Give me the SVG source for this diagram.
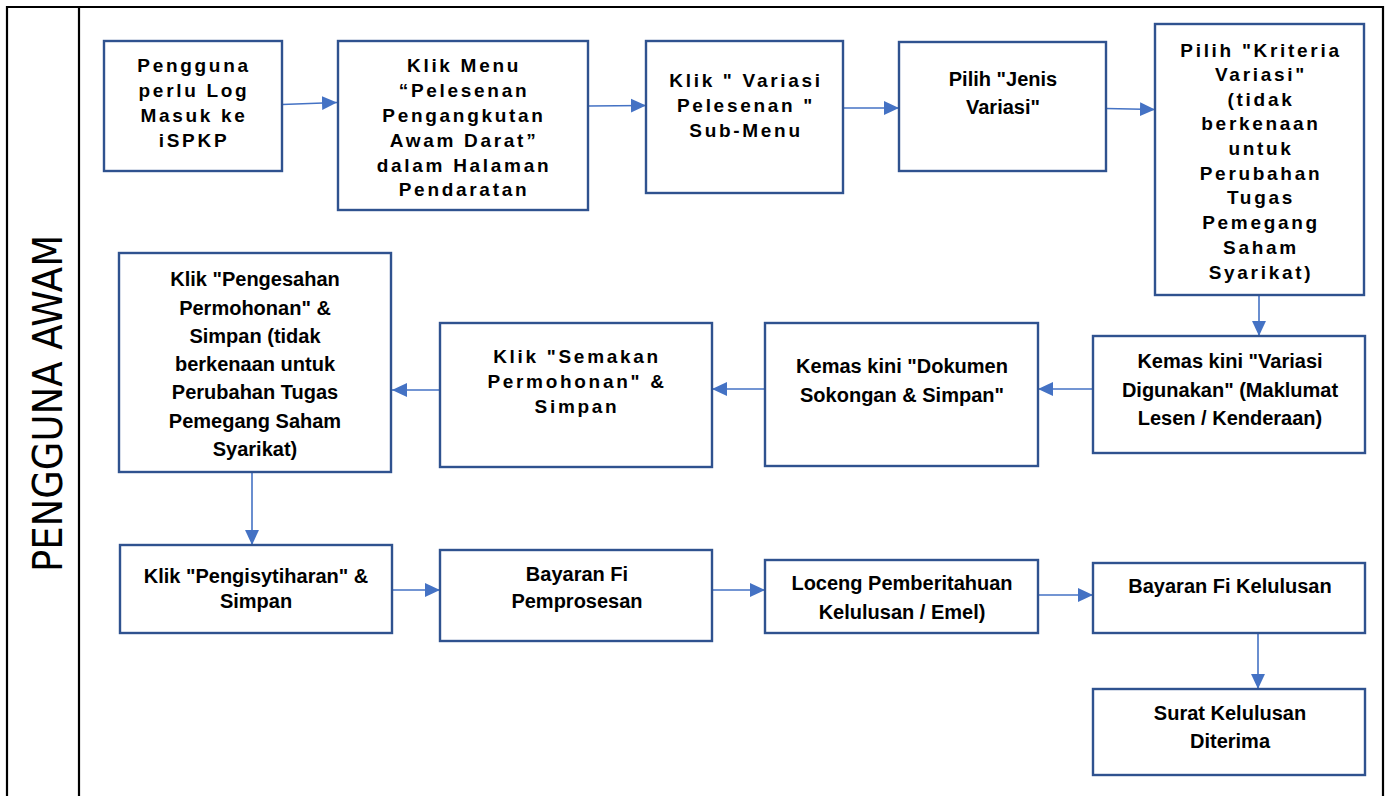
<svg xmlns="http://www.w3.org/2000/svg" width="1390" height="796" viewBox="0 0 1390 796">
<style>
.frame{stroke:#000;stroke-width:2.2;fill:none}
.box{fill:#fff;stroke:#2F528F;stroke-width:2.4}
.sp{font-family:"Liberation Sans",Arial,sans-serif;font-weight:bold;font-size:19px;letter-spacing:2.7px;fill:#000;text-anchor:middle}
.cn{font-family:"Liberation Sans",Arial,sans-serif;font-weight:bold;font-size:20px;fill:#000;text-anchor:middle}
.lane{font-family:"DejaVu Sans","Liberation Sans",sans-serif;font-size:41px;fill:#000;text-anchor:middle}
.conn{stroke:#4472C4;stroke-width:1.6;fill:none;marker-end:url(#ah)}
</style>
<defs>
<marker id="ah" markerUnits="userSpaceOnUse" markerWidth="15" markerHeight="15" refX="14" refY="7" orient="auto" viewBox="0 0 14 14">
<path d="M0,0.5 L14,7 L0,13.5 z" fill="#4472C4"/>
</marker>
</defs>
<rect width="1390" height="796" fill="#fff"/>
<g id="lane">
<path class="frame" d="M7,796 V7 H1383 V796 M79,7 V796"/>
<text class="lane" transform="translate(62,403.5) rotate(-90)" textLength="337" lengthAdjust="spacingAndGlyphs">PENGGUNA AWAM</text>
</g>
<g id="connectors">
<path class="conn" d="M282,104.5 L337,102.5"/>
<path class="conn" d="M588,106 L646,105.5"/>
<path class="conn" d="M843,108 L899,108"/>
<path class="conn" d="M1106,108.5 L1155,109.5"/>
<path class="conn" d="M1259,295 L1259,336"/>
<path class="conn" d="M1093,389 L1038,389"/>
<path class="conn" d="M765,389 L712,389"/>
<path class="conn" d="M440,390 L392,390"/>
<path class="conn" d="M252,472 L252,545"/>
<path class="conn" d="M392,590 L440,590"/>
<path class="conn" d="M712,590 L765,590"/>
<path class="conn" d="M1038,595 L1093,595"/>
<path class="conn" d="M1258,633 L1258,689"/>
</g>
<g id="n1">
<rect class="box" x="104" y="41" width="178" height="130"/>
<text class="sp"><tspan x="194" y="72">Pengguna</tspan><tspan x="194" y="97">perlu Log</tspan><tspan x="194" y="122">Masuk ke</tspan><tspan x="194" y="147">iSPKP</tspan></text>
</g>
<g id="n2">
<rect class="box" x="338" y="41" width="250" height="169"/>
<text class="sp"><tspan x="464" y="72">Klik Menu</tspan><tspan x="464" y="97">“Pelesenan</tspan><tspan x="464" y="122">Pengangkutan</tspan><tspan x="464" y="147">Awam Darat”</tspan><tspan x="464" y="172">dalam Halaman</tspan><tspan x="464" y="196">Pendaratan</tspan></text>
</g>
<g id="n3">
<rect class="box" x="646" y="41" width="197" height="152"/>
<text class="sp"><tspan x="746" y="87">Klik " Variasi</tspan><tspan x="746" y="112">Pelesenan "</tspan><tspan x="746" y="137">Sub-Menu</tspan></text>
</g>
<g id="n4">
<rect class="box" x="899" y="42" width="207" height="129"/>
<text class="cn"><tspan x="1003" y="86">Pilih "Jenis</tspan><tspan x="1003" y="114">Variasi"</tspan></text>
</g>
<g id="n5">
<rect class="box" x="1155" y="24" width="209" height="271"/>
<text class="sp"><tspan x="1261" y="57">Pilih "Kriteria</tspan><tspan x="1261" y="81">Variasi"</tspan><tspan x="1261" y="106">(tidak</tspan><tspan x="1261" y="130">berkenaan</tspan><tspan x="1261" y="155">untuk</tspan><tspan x="1261" y="180">Perubahan</tspan><tspan x="1261" y="204">Tugas</tspan><tspan x="1261" y="229">Pemegang</tspan><tspan x="1261" y="254">Saham</tspan><tspan x="1261" y="279">Syarikat)</tspan></text>
</g>
<g id="n6">
<rect class="box" x="1093" y="336" width="272" height="117"/>
<text class="cn"><tspan x="1230" y="368">Kemas kini "Variasi</tspan><tspan x="1230" y="397">Digunakan" (Maklumat</tspan><tspan x="1230" y="425">Lesen / Kenderaan)</tspan></text>
</g>
<g id="n7">
<rect class="box" x="765" y="323" width="273" height="143"/>
<text class="cn"><tspan x="902" y="373">Kemas kini "Dokumen</tspan><tspan x="902" y="402">Sokongan &amp; Simpan"</tspan></text>
</g>
<g id="n8">
<rect class="box" x="440" y="323" width="272" height="144"/>
<text class="sp"><tspan x="577" y="363">Klik "Semakan</tspan><tspan x="577" y="388">Permohonan" &amp;</tspan><tspan x="577" y="413">Simpan</tspan></text>
</g>
<g id="n9">
<rect class="box" x="119" y="253" width="272" height="219"/>
<text class="cn"><tspan x="255" y="286">Klik "Pengesahan</tspan><tspan x="255" y="315">Permohonan" &amp;</tspan><tspan x="255" y="343">Simpan (tidak</tspan><tspan x="255" y="371">berkenaan untuk</tspan><tspan x="255" y="399">Perubahan Tugas</tspan><tspan x="255" y="428">Pemegang Saham</tspan><tspan x="255" y="456">Syarikat)</tspan></text>
</g>
<g id="n10">
<rect class="box" x="120" y="545" width="272" height="88"/>
<text class="cn"><tspan x="256" y="583">Klik "Pengisytiharan" &amp;</tspan><tspan x="256" y="608">Simpan</tspan></text>
</g>
<g id="n11">
<rect class="box" x="440" y="550" width="272" height="91"/>
<text class="cn"><tspan x="577" y="581">Bayaran Fi</tspan><tspan x="577" y="608">Pemprosesan</tspan></text>
</g>
<g id="n12">
<rect class="box" x="765" y="560" width="273" height="73"/>
<text class="cn"><tspan x="902" y="590">Loceng Pemberitahuan</tspan><tspan x="902" y="619">Kelulusan / Emel)</tspan></text>
</g>
<g id="n13">
<rect class="box" x="1093" y="563" width="272" height="70"/>
<text class="cn"><tspan x="1230" y="593">Bayaran Fi Kelulusan</tspan></text>
</g>
<g id="n14">
<rect class="box" x="1093" y="689" width="272" height="86"/>
<text class="cn"><tspan x="1230" y="720">Surat Kelulusan</tspan><tspan x="1230" y="748">Diterima</tspan></text>
</g>
</svg>
